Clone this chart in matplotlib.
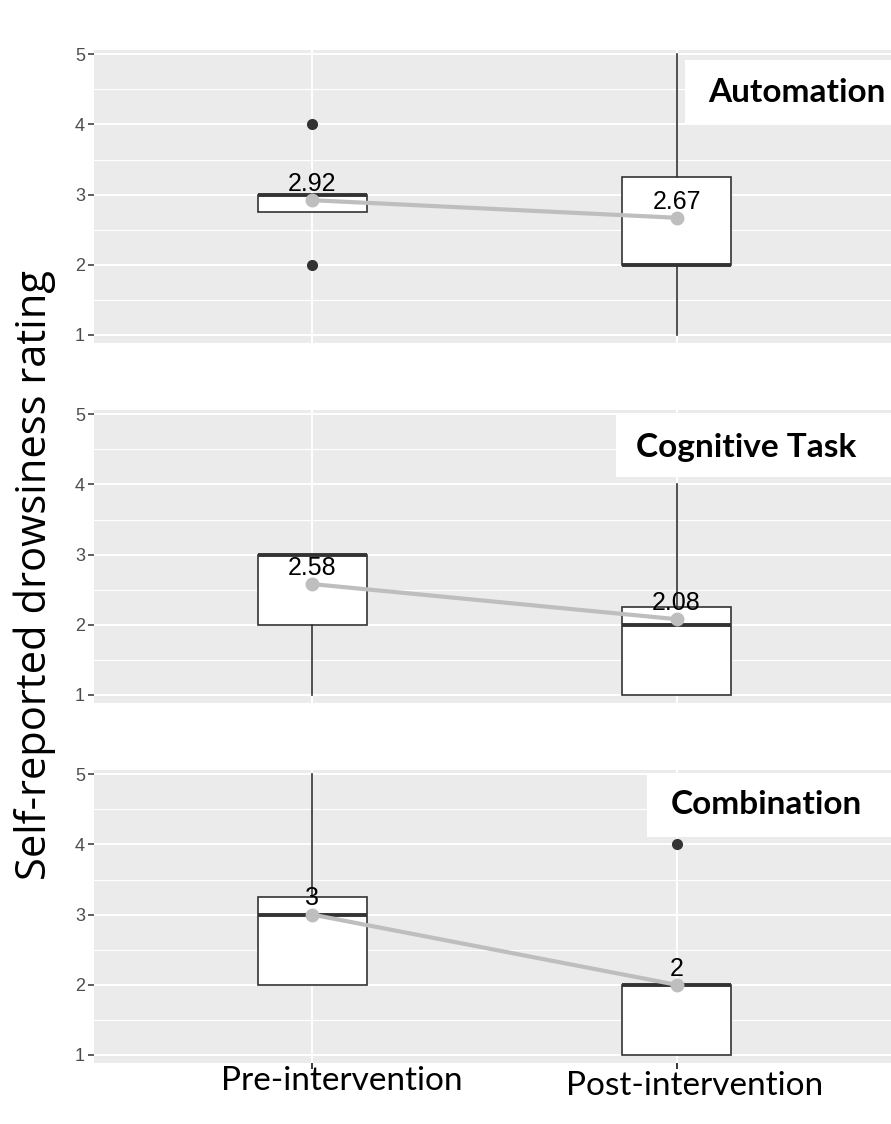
import matplotlib
matplotlib.use("Agg")
import matplotlib.pyplot as plt
from matplotlib.patches import Rectangle
from matplotlib.ticker import MultipleLocator

# ---------------- data ----------------
groups = ["Automation", "Cognitive Task", "Combination"]
conditions = ["Pre-intervention", "Post-intervention"]
q1 = [[2.75, 2.0], [2.0, 1.0], [2.0, 1.0]]
med = [[3.0, 2.0], [3.0, 2.0], [3.0, 2.0]]
q3 = [[3.0, 3.25], [3.0, 2.25], [3.25, 2.0]]
whislo = [[2.75, 1.0], [1.0, 1.0], [2.0, 1.0]]
whishi = [[3.0, 5.0], [3.0, 4.0], [5.0, 2.0]]
fliers = [[[2, 4], []], [[], []], [[], [4]]]
means = [[2.92, 2.67], [2.58, 2.08], [3.0, 2.0]]
mean_labels = [["2.92", "2.67"], ["2.58", "2.08"], ["3", "2"]]
yticks = [1, 2, 3, 4, 5]
ylabel = "Self-reported drowsiness rating"

# ---------------- layout ----------------
W, H = 891, 1124
fig = plt.figure(figsize=(W / 100, H / 100), dpi=100)

def fx(px):
    return px / W

def fy(py):
    return 1 - py / H

left_px, right_px = 94, 895
panel_top = [50, 410, 770]
panel_h = 293
label_boxes = [  # x0, y0, x1, y1 (pixels), text centre
    (685, 60, 895, 123, 797, 92),
    (616, 415, 895, 477, 746, 447),
    (647, 773, 895, 837, 766, 805),
]

box_col = "#333333"
axes = []
for i, g in enumerate(groups):
    t = panel_top[i]
    ax = fig.add_axes([fx(left_px), fy(t + panel_h), fx(right_px - left_px), panel_h / H])
    axes.append(ax)
    ax.set_facecolor("#EBEBEB")
    for s in ax.spines.values():
        s.set_visible(False)
    ax.set_xlim(0.4, 2.6)
    ax.set_ylim(0.886, 5.06)
    ax.set_yticks(yticks)
    ax.yaxis.set_minor_locator(MultipleLocator(0.5))
    ax.set_xticks([1, 2])
    ax.grid(which="major", color="white", lw=1.4, zorder=0)
    ax.grid(which="minor", axis="y", color="white", lw=0.8, zorder=0)
    ax.set_axisbelow(True)
    ax.tick_params(axis="y", which="major", length=4.5, width=1.1, color="#333333",
                   labelsize=13, labelcolor="#4D4D4D", pad=2)
    ax.tick_params(axis="y", which="minor", length=0)
    for lab in ax.get_yticklabels():
        lab.set_fontfamily("Liberation Sans")
    if i < 2:
        ax.tick_params(axis="x", length=0, labelbottom=False)
    else:
        ax.tick_params(axis="x", length=4.5, width=1.1, color="#333333", labelbottom=False)

    stats = []
    for j in range(2):
        stats.append(dict(med=med[i][j], q1=q1[i][j], q3=q3[i][j],
                          whislo=whislo[i][j], whishi=whishi[i][j],
                          fliers=fliers[i][j], label=conditions[j]))
    ax.bxp(stats, positions=[1, 2], widths=0.3, showcaps=False, patch_artist=True,
           boxprops=dict(facecolor="white", edgecolor=box_col, linewidth=1.2),
           medianprops=dict(color=box_col, linewidth=2.8, solid_capstyle="butt"),
           whiskerprops=dict(color=box_col, linewidth=1.2),
           flierprops=dict(marker="o", markerfacecolor=box_col, markeredgecolor=box_col,
                           markersize=7),
           zorder=2)
    ax.plot([1, 2], means[i], color="#BEBEBE", lw=3, marker="o", markersize=9,
            zorder=4, solid_capstyle="round")
    for j in range(2):
        ax.text(j + 1, means[i][j] + 0.23, mean_labels[i][j], ha="center", va="center",
                fontsize=18, family="Liberation Sans", color="black", zorder=5)

    x0, y0, x1, y1, tx, ty = label_boxes[i]
    fig.patches.append(Rectangle((fx(x0), fy(y1)), fx(x1 - x0), (y1 - y0) / H,
                                 transform=fig.transFigure, facecolor="white",
                                 edgecolor="none", zorder=10))
    fig.text(fx(tx), fy(ty), g, ha="center", va="center", fontsize=24,
             family="Lato", fontweight="bold", color="black", zorder=11)

# x category labels (placed as in the reference)
fig.text(fx(342), fy(1081), conditions[0], ha="center", va="center", fontsize=24,
         family="Lato", color="black")
fig.text(fx(695), fy(1086), conditions[1], ha="center", va="center", fontsize=24,
         family="Lato", color="black")

fig.text(fx(35), fy(575), ylabel, rotation=90, ha="center", va="center", fontsize=30,
         family="Open Sans", color="black")

fig.savefig("out.png", dpi=100, facecolor="white")
